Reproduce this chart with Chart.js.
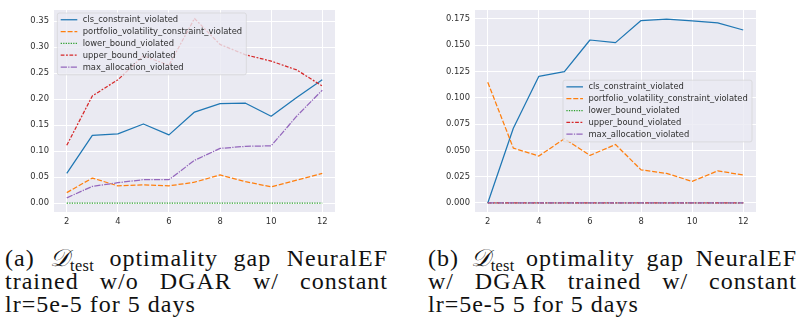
<!DOCTYPE html>
<html><head><meta charset="utf-8">
<script src="https://cdn.jsdelivr.net/npm/chart.js@4.4.1/dist/chart.umd.min.js"></script>
<style>
html,body{margin:0;padding:0;background:#fff}
body{width:800px;height:327px;position:relative;overflow:hidden}
canvas{position:absolute;top:0}
.cap{position:absolute;font-family:"Liberation Serif","Times New Roman",serif;font-size:24px;color:#111;letter-spacing:1px}
.ln{position:absolute;left:0;right:0;line-height:23px;height:23px;overflow:visible;white-space:nowrap}
.j{text-align:justify;text-align-last:justify;white-space:normal}
.D{font-style:italic}
sub{font-size:0.68em;vertical-align:-0.28em;line-height:0;letter-spacing:0.3px}
</style></head><body>
<canvas id="ca" width="400" height="235" style="left:0"></canvas>
<canvas id="cb" width="400" height="235" style="left:400px"></canvas>
<div class="cap" style="left:5px;width:383px;top:0">
  <div class="ln j" style="top:247px">(a) <span class="D">𝒟</span><sub>test</sub> optimality gap NeuralEF</div>
  <div class="ln j" style="top:270px">trained w/o DGAR w/ constant</div>
  <div class="ln" style="top:293px">lr=5e-5 for 5 days</div>
</div>
<div class="cap" style="left:428px;width:369px;top:0">
  <div class="ln j" style="top:247px">(b) <span class="D">𝒟</span><sub>test</sub> optimality gap NeuralEF</div>
  <div class="ln j" style="top:270px">w/ DGAR trained w/ constant</div>
  <div class="ln" style="top:293px">lr=5e-5 5 for 5 days</div>
</div>
<script>
// ---------- data ----------
const epochs = [2, 3, 4, 5, 6, 7, 8, 9, 10, 11, 12];
const seriesNames = ['cls_constraint_violated', 'portfolio_volatility_constraint_violated',
  'lower_bound_violated', 'upper_bound_violated', 'max_allocation_violated'];

// (a) trained w/o DGAR
const aCls   = [0.057, 0.130, 0.133, 0.152, 0.131, 0.175, 0.191, 0.192, 0.167, 0.203, 0.237];
const aVol   = [0.020, 0.048, 0.033, 0.035, 0.033, 0.040, 0.054, 0.041, 0.031, 0.044, 0.057];
const aLower = [0, 0, 0, 0, 0, 0, 0, 0, 0, 0, 0];
const aUpper = [0.111, 0.206, 0.237, 0.283, 0.265, 0.355, 0.305, 0.285, 0.273, 0.256, 0.225];
const aMax   = [0.010, 0.032, 0.039, 0.045, 0.045, 0.082, 0.105, 0.109, 0.110, 0.167, 0.217];

// (b) w/ DGAR
const bCls   = [0.000, 0.071, 0.1205, 0.125, 0.155, 0.1525, 0.1735, 0.1748, 0.1732, 0.1713, 0.1645];
const bVol   = [0.1148, 0.0522, 0.0446, 0.0611, 0.0452, 0.0556, 0.0315, 0.0281, 0.0205, 0.0305, 0.0266];
const bLower = [0, 0, 0, 0, 0, 0, 0, 0, 0, 0, 0];
const bUpper = [0, 0, 0, 0, 0, 0, 0, 0, 0, 0, 0];
const bMax   = [0, 0, 0, 0, 0, 0, 0, 0, 0, 0, 0];

const xTicks = [2, 4, 6, 8, 10, 12];
const xTickLabels = ['2', '4', '6', '8', '10', '12'];
const yTicksA = [0, 0.05, 0.10, 0.15, 0.20, 0.25, 0.30, 0.35];
const yTickLabelsA = ['0.00', '0.05', '0.10', '0.15', '0.20', '0.25', '0.30', '0.35'];
const yTicksB = [0, 0.025, 0.05, 0.075, 0.10, 0.125, 0.15, 0.175];
const yTickLabelsB = ['0.000', '0.025', '0.050', '0.075', '0.100', '0.125', '0.150', '0.175'];

// ---------- styles ----------
const colors = ['#1f77b4', '#ff7f0e', '#2ca02c', '#d62728', '#9467bd'];
const LW = 1.25;
const dashes = [[], [4*LW, 1.5*LW], [1*LW, 1*LW], [3*LW, 1.25*LW, 1.5*LW, 1.25*LW], [5*LW, 1*LW, 1*LW, 1*LW]];
const FONT = '"DejaVu Sans", sans-serif';
const FS = 8.4;
const TXT = '#303030';

function makeDatasets(series) {
  return series.map((vals, i) => ({
    label: seriesNames[i],
    data: epochs.map((e, k) => ({x: e, y: vals[k]})),
    borderColor: colors[i],
    backgroundColor: colors[i],
    borderWidth: LW,
    borderDash: dashes[i],
    borderJoinStyle: 'round',
    borderCapStyle: 'butt',
    pointRadius: 0,
    tension: 0,
    fill: false,
    order: series.length - 1 - i
  }));
}

const bgPlugin = {
  id: 'bgArea',
  beforeDraw(chart) {
    const {ctx, chartArea: a} = chart;
    ctx.save();
    ctx.fillStyle = '#EAEAF2';
    ctx.fillRect(a.left, a.top, a.right - a.left, a.bottom - a.top);
    ctx.restore();
  }
};

const legendPlugin = {
  id: 'mplLegend',
  afterDatasetsDraw(chart, args, opts) {
    const {ctx, chartArea: a} = chart;
    const ds = chart.data.datasets;
    ctx.save();
    ctx.font = FS + 'px ' + FONT;
    const tw = Math.max(...ds.map(d => ctx.measureText(d.label).width));
    const padL = 3.4, handle = 16.6, gap = 5.4, padR = 4.2, rowH = 11.83, padT = 6.7, padB = 7.7;
    const w = padL + handle + gap + tw + padR;
    const h = padT + rowH * (ds.length - 1) + padB;
    let x, y;
    if (opts.loc === 'upper left') { x = a.left + 3.3; y = a.top + 3; }
    else { x = a.right - 4 - w; y = (a.top + a.bottom) / 2 - h / 2; }
    ctx.beginPath();
    ctx.roundRect(x, y, w, h, 2);
    ctx.fillStyle = 'rgba(234,234,242,0.8)';
    ctx.fill();
    ctx.lineWidth = 0.7;
    ctx.strokeStyle = 'rgba(204,204,204,0.8)';
    ctx.stroke();
    ds.forEach((d, i) => {
      const cy = y + padT + rowH * i;
      ctx.beginPath();
      ctx.setLineDash(d.borderDash);
      ctx.lineWidth = d.borderWidth;
      ctx.strokeStyle = d.borderColor;
      ctx.moveTo(x + padL, cy);
      ctx.lineTo(x + padL + handle, cy);
      ctx.stroke();
      ctx.setLineDash([]);
      ctx.fillStyle = TXT;
      ctx.textBaseline = 'middle';
      ctx.textAlign = 'left';
      ctx.fillText(d.label, x + padL + handle + gap, cy + 0.3);
    });
    ctx.restore();
  }
};

function makeChart(id, series, yTicks, yLabels, yMin, yMax, yWidth, rightPad, loc) {
  return new Chart(document.getElementById(id), {
    type: 'line',
    data: {datasets: makeDatasets(series)},
    plugins: [bgPlugin, legendPlugin],
    options: {
      responsive: false,
      animation: false,
      devicePixelRatio: 1,
      layout: {padding: {top: 2.5, right: rightPad, left: 0, bottom: 0}},
      plugins: {legend: {display: false}, tooltip: {enabled: false}, mplLegend: {loc}},
      scales: {
        x: {
          type: 'linear', min: 1.5, max: 12.5,
          afterBuildTicks: s => { s.ticks = xTicks.map(v => ({value: v})); },
          afterFit: s => { s.height = 23; },
          grid: {color: '#ffffff', lineWidth: 1, drawTicks: false},
          border: {display: false},
          ticks: {
            padding: 4.5, color: TXT, font: {family: FONT, size: FS},
            maxRotation: 0, autoSkip: false,
            callback: v => xTickLabels[xTicks.indexOf(v)]
          }
        },
        y: {
          type: 'linear', min: yMin, max: yMax,
          afterBuildTicks: s => { s.ticks = yTicks.map(v => ({value: v})); },
          afterFit: s => { s.width = yWidth; },
          grid: {color: '#ffffff', lineWidth: 1, drawTicks: false},
          border: {display: false},
          ticks: {
            padding: 5, color: TXT, font: {family: FONT, size: FS}, autoSkip: false,
            callback: v => yLabels[yTicks.findIndex(t => Math.abs(t - v) < 1e-9)]
          }
        }
      }
    }
  });
}

makeChart('ca', [aCls, aVol, aLower, aUpper, aMax], yTicksA, yTickLabelsA, -0.0173, 0.3712, 54, 65, 'upper left');
makeChart('cb', [bCls, bVol, bLower, bUpper, bMax], yTicksB, yTickLabelsB, -0.0086, 0.1835, 75, 44, 'center right');
</script>
</body></html>
